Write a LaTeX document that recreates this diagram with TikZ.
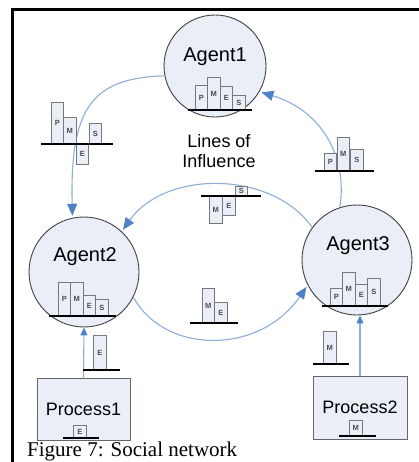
\documentclass[tikz,border=0pt]{standalone}
\usepackage{fontspec}
\setmainfont{Liberation Serif}
\setsansfont{Liberation Sans}
\usetikzlibrary{arrows.meta}
\definecolor{agentfill}{RGB}{233,238,247}
\definecolor{linkblue}{RGB}{143,174,214}
\definecolor{tipblue}{RGB}{79,129,199}
\definecolor{barline}{RGB}{120,120,120}
\def\pmesbar(#1,#2,#3)#4{\draw[barbox] (#1,#2) rectangle ++(12.5,{-(#3)}); \node[barletter] (#4bar) at ({#1+6.25},{#2-(#3)/2}) {#4};}
\def\pmesplate(#1:#2,#3){\draw[plate] (#1,#3) -- (#2,#3);}

\begin{document}
\begin{tikzpicture}[x=1pt, y=-1pt,
	agent/.style={circle, draw=black!75, line width=0.9pt, fill=agentfill, inner sep=0pt},
	proc/.style={rectangle, draw=black!60, line width=0.9pt, fill=agentfill, inner sep=0pt},
	agentname/.style={font=\sffamily\fontsize{20}{22}\selectfont, inner sep=0pt},
	procname/.style={font=\sffamily\fontsize{18}{20}\selectfont, inner sep=0pt},
	barbox/.style={draw=barline, line width=0.8pt, fill=agentfill},
	barletter/.style={font=\sffamily\bfseries\fontsize{7.5}{8}\selectfont, text=black!70, inner sep=0pt},
	plate/.style={line width=2.8pt, black},
	link/.style={linkblue, line width=1.1pt, shorten >=2pt, -{Triangle[length=12pt, width=10pt, color=tipblue]}},
	feed/.style={linkblue, line width=1.1pt, -{Triangle[length=8pt, width=7pt, color=tipblue]}}]
		%%%%% START %%%%%
		
		\fill[white] (0,0) rectangle (419,462);
		\useasboundingbox (0,0) rectangle (419,462);
		
		\draw[line width=3pt] (419,10) -- (12.5,10) -- (12.5,462);
		
		\node[agent, minimum size=102pt] (a1) at (215,66) {};
		\node[agent, minimum size=110pt] (a2) at (84,272) {};
		\node[agent, minimum size=110pt] (a3) at (357,260) {};
		\node[agentname] (a1t) at (215,57) {Agent1};
		\node[agentname] (a2t) at (85,257) {Agent2};
		\node[agentname] (a3t) at (358,246) {Agent3};
		
		\node[proc, minimum width=93pt, minimum height=62pt] (p1) at (83.5,409) {};
		\node[proc, minimum width=94pt, minimum height=63pt] (p2) at (360,407.5) {};
		\node[procname] (p1t) at (83.5,409) {Process1};
		\node[procname] (p2t) at (360,407) {Process2};
		
		\node[procname, align=center] (lines) at (219,151) {Lines of\\Influence};
		
		\draw[link] (a1.191) .. controls (90,78) and (70,110) .. (a2.102);
		\draw[link] (a3.108) .. controls (348,155) and (320,110) .. (a1.-30);
		\draw[link] (a3.144) .. controls (272,170) and (165,170) .. (a2.47);
		\draw[link] (a2.-27) .. controls (165,355) and (260,355) .. (a3.-153);
		\draw[feed] (p1.north) -- (a2.south);
		\draw[feed] (p2.north) -- (p2.north |- a3.south);
		
		\pmesbar(195,110,25){P} \pmesbar(207.5,110,33){M} \pmesbar(220,110,24){E} \pmesbar(232.5,110,15){S}
		\pmesplate(188:252,110)
		
		\pmesbar(58,316,34){P} \pmesbar(70.5,316,34){M} \pmesbar(83,316,21){E} \pmesbar(95.5,316,17){S}
		\pmesplate(49:116,316)
		
		\pmesbar(330,306,18){P} \pmesbar(342.5,306,34){M} \pmesbar(355,306,22){E} \pmesbar(367.5,306,28){S}
		\pmesplate(322:388,306)
		
		\pmesbar(51,144,42){P} \pmesbar(63.5,144,27){M} \pmesbar(76,144,-20){E} \pmesbar(89,144,21){S}
		\pmesplate(41:113,144)
		
		\pmesbar(324,171,18){P} \pmesbar(337,171,34){M} \pmesbar(350.5,171,22){S}
		\pmesplate(315:374,171)
		
		\pmesbar(209.5,196,-27){M} \pmesbar(222.5,196,-19){E} \pmesbar(235,196,10){S}
		\pmesplate(201:261,196)
		
		\pmesbar(202,323,35){M} \pmesbar(214.5,323,21){E}
		\pmesplate(190:238,323)
		
		\pmesbar(93.5,370,35){E}
		\pmesplate(83:120,370)
		\pmesbar(323.5,364,33){M}
		\pmesplate(313:349,364)
		
		\pmesbar(73.5,438,13){E}
		\pmesplate(63:99,438)
		\pmesbar(349.5,436,16){M}
		\pmesplate(339:376,436)
		
		\node[anchor=base west, inner sep=0pt, font=\fontsize{21}{24}\selectfont] (caption) at (27,456.5) {Figure 7: Social network};
		
		%%%%% END %%%%%
	\end{tikzpicture}
\end{document}
